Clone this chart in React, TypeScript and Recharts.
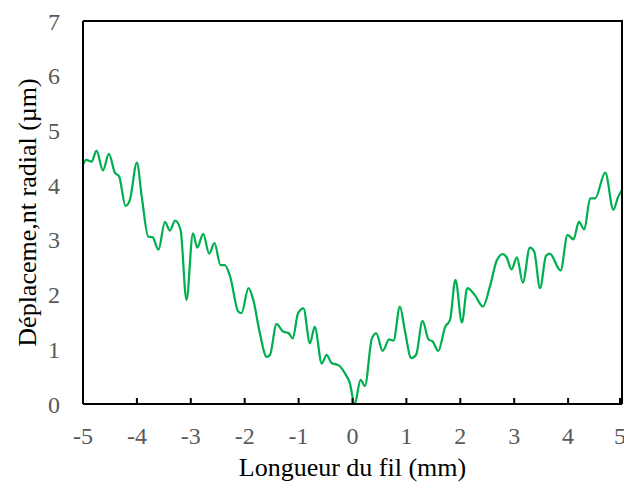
import { LineChart, Line, XAxis, YAxis } from "recharts";

// position along the wire (mm) and radial displacement (µm)
const positions = [
  -5.0, -4.94, -4.84, -4.75, -4.63, -4.52, -4.41, -4.33, -4.21, -4.13,
  -4.0, -3.91, -3.79, -3.71, -3.6, -3.48, -3.39, -3.29, -3.19, -3.08,
  -2.96, -2.88, -2.77, -2.66, -2.56, -2.45, -2.37, -2.27, -2.12, -2.06,
  -1.93, -1.84, -1.73, -1.59, -1.53, -1.41, -1.28, -1.19, -1.11, -1.01,
  -0.91, -0.79, -0.7, -0.57, -0.48, -0.39, -0.26, -0.14, -0.05, 0.04,
  0.15, 0.23, 0.36, 0.44, 0.56, 0.68, 0.76, 0.88, 0.97, 1.09,
  1.18, 1.3, 1.41, 1.49, 1.59, 1.72, 1.81, 1.91, 2.03, 2.13,
  2.27, 2.42, 2.55, 2.68, 2.79, 2.86, 2.95, 3.05, 3.16, 3.29,
  3.37, 3.48, 3.59, 3.66, 3.86, 3.99, 4.1, 4.2, 4.3, 4.41,
  4.5, 4.69, 4.84, 4.93, 5.0,
];
const displacement = [
  4.37, 4.46, 4.43, 4.63, 4.27, 4.57, 4.23, 4.16, 3.62, 3.73,
  4.41, 3.79, 3.06, 3.05, 2.82, 3.33, 3.17, 3.35, 3.18, 1.9,
  3.12, 2.86, 3.11, 2.75, 2.94, 2.54, 2.54, 2.33, 1.69, 1.66,
  2.12, 1.9, 1.35, 0.86, 0.9, 1.46, 1.32, 1.3, 1.2, 1.66,
  1.75, 1.11, 1.41, 0.74, 0.9, 0.75, 0.71, 0.56, 0.38, 0.0,
  0.44, 0.33, 1.2, 1.29, 0.97, 1.18, 1.16, 1.78, 1.35, 0.84,
  0.9, 1.52, 1.18, 1.14, 0.97, 1.41, 1.54, 2.27, 1.49, 2.12,
  1.99, 1.78, 2.15, 2.63, 2.74, 2.68, 2.46, 2.68, 2.22, 2.86,
  2.79, 2.12, 2.71, 2.75, 2.44, 3.09, 3.01, 3.33, 3.19, 3.76,
  3.76, 4.23, 3.55, 3.79, 3.91,
];
const xTicks = [-5, -4, -3, -2, -1, 0, 1, 2, 3, 4, 5];
const yTicks = [0, 1, 2, 3, 4, 5, 6, 7];

const data = positions.map((x, i) => ({ x, y: displacement[i] }));

const FONT = "'Liberation Serif', 'Times New Roman', serif";
const X_TICK_MARGIN = 23;
const TOP = 21;
const LEFT = 83;
const RIGHT = 2;
const BOTTOM_AXIS = 84;
const W = 624;
const H = 488;

const XTick = (props: any) => {
  const { x, y, payload } = props;
  const axisY = y - X_TICK_MARGIN;
  return (
    <g>
      <line x1={x} x2={x} y1={axisY} y2={axisY - 6} stroke="#000" strokeWidth={2} />
      <text x={x} y={y} dy="0.71em" textAnchor="middle" fontFamily={FONT} fontSize={24} fill="#595959">
        {payload.value}
      </text>
    </g>
  );
};

const XTitle = (p: any) => {
  const vb = p.viewBox;
  return (
    <text x={vb.x + vb.width / 2} y={476} textAnchor="middle" fontFamily={FONT} fontSize={26} fill="#000">
      Longueur du fil (mm)
    </text>
  );
};

const YTitle = (p: any) => {
  const vb = p.viewBox;
  const cx = 27;
  const cy = vb.y + vb.height / 2;
  return (
    <text x={cx} y={cy} transform={`rotate(-90 ${cx} ${cy})`} textAnchor="middle" dominantBaseline="central" fontFamily={FONT} fontSize={26} fill="#000">
      Déplaceme,nt radial (µm)
    </text>
  );
};

export default function App() {
  return (
    <div style={{ position: "absolute", left: 0, top: 0, width: W, height: H, background: "#fff" }}>
      <LineChart width={W} height={H} data={data} margin={{ top: TOP, right: RIGHT, bottom: 0, left: 0 }}>
        <XAxis
          dataKey="x"
          type="number"
          domain={[-5, 5]}
          ticks={xTicks}
          height={BOTTOM_AXIS}
          tickLine={false}
          tickSize={0}
          tickMargin={X_TICK_MARGIN}
          tick={<XTick />}
          axisLine={{ stroke: "#000", strokeWidth: 2 }}
          label={{ content: XTitle }}
        />
        <YAxis
          type="number"
          domain={[0, 7]}
          ticks={yTicks}
          width={LEFT}
          tickLine={false}
          tickSize={0}
          tickMargin={23}
          tick={{ fontFamily: FONT, fontSize: 24, fill: "#595959" }}
          axisLine={{ stroke: "#000", strokeWidth: 2 }}
          label={{ content: YTitle }}
        />
        <Line dataKey="y" type="monotone" stroke="#00b050" strokeWidth={2.25} dot={false} activeDot={false} isAnimationActive={false} />
      </LineChart>
      {/* top and right edges of the plot frame */}
      <div
        style={{
          position: "absolute",
          left: LEFT,
          top: TOP - 1,
          width: W - RIGHT - LEFT - 1,
          height: H - BOTTOM_AXIS - TOP - 1,
          borderTop: "2px solid #000",
          borderRight: "2px solid #000",
          pointerEvents: "none",
        }}
      />
    </div>
  );
}
